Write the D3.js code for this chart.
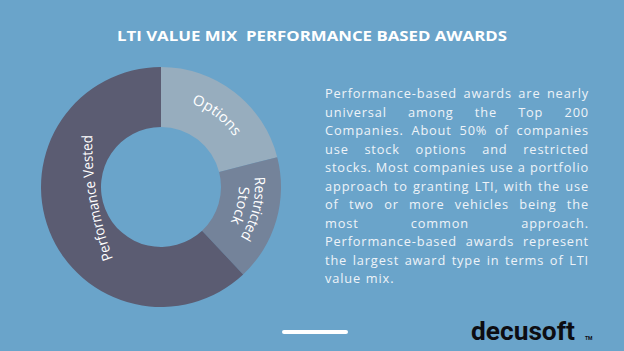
<!DOCTYPE html>
<html>
<head>
<meta charset="utf-8">
<script src="https://cdn.jsdelivr.net/npm/d3@7"></script>
<style>
  html, body { margin: 0; padding: 0; background: #6aa4ca; }
  svg { display: block; }
</style>
</head>
<body>
<svg id="chart1" width="624" height="351"></svg>
<script>
// slices, clockwise from 12 o'clock
const CATEGORIES = ['Options', 'Restricted Stock', 'Performance Vested'];
const SHARES = [21, 17, 62];
const LABEL_LINES = [['Options'], ['Restricted', 'Stock'], ['Performance Vested']];

const TITLE = 'LTI VALUE MIX\u00a0\u00a0PERFORMANCE BASED AWARDS';
const BODY_LINES = [
    'Performance-based awards are nearly',
    'universal among the Top 200',
    'Companies. About 50% of companies',
    'use stock options and restricted',
    'stocks. Most companies use a portfolio',
    'approach to granting LTI, with the use',
    'of two or more vehicles being the',
    'most common approach.',
    'Performance-based awards represent',
    'the largest award type in terms of LTI',
    'value mix.'
];

const COLORS = ['#97adbe', '#74839a', '#5b5c72'];
const FONT = '"Open Sans", "Noto Sans", sans-serif';

const SVG1 = d3.select('#chart1');
const CX = 161, CY = 187;
const R_OUT = 120, R_IN = 60;

// title
SVG1.append('text')
    .attr('x', 312)
    .attr('y', 41)
    .attr('text-anchor', 'middle')
    .style('font-family', FONT)
    .style('font-weight', 700)
    .style('font-size', '15px')
    .style('fill', '#ffffff')
    .attr('textLength', 390)
    .attr('lengthAdjust', 'spacingAndGlyphs')
    .text(TITLE);

// donut
const data = CATEGORIES.map((c, i) => ({ name: c, value: SHARES[i], lines: LABEL_LINES[i], color: COLORS[i] }));
const pie = d3.pie().value(d => d.value).sort(null);
const arc = d3.arc().innerRadius(R_IN).outerRadius(R_OUT);
const arcs = pie(data);

const donut = SVG1.append('g')
    .attr('id', 'donut')
    .attr('transform', `translate(${CX},${CY})`);

donut.selectAll('path.slice')
    .data(arcs)
    .join('path')
    .attr('class', 'slice')
    .attr('d', arc)
    .style('fill', d => d.data.color);

// labels follow a gentle arch (the original used a warp effect, not a concentric path)
// dAngle: shift from slice middle, r: radius of first line centre, rc: curvature radius,
// len: target length of each line
const LABEL_FS = 14.5;
const labelStyle = [
    { dAngle: 0, r: 94, rc: null, gap: 16, len: [55] },
    { dAngle: -3, r: 99, rc: null, gap: 16, len: [63, 37] },
    { dAngle: 12, r: 70, rc: 350, gap: 16, len: [126] }
];

const arcPath = (aDeg, r, rc, halfLen) => {
    const a = aDeg * Math.PI / 180;
    const R = rc || r;
    const px = r * Math.sin(a), py = -r * Math.cos(a);
    const cx = px - R * Math.sin(a), cy = py + R * Math.cos(a);
    const s = halfLen / R;
    const x0 = cx + R * Math.sin(a - s), y0 = cy - R * Math.cos(a - s);
    const x1 = cx + R * Math.sin(a + s), y1 = cy - R * Math.cos(a + s);
    return `M${x0},${y0}A${R},${R} 0 0 1 ${x1},${y1}`;
};

const defs = SVG1.append('defs');
arcs.forEach((d, i) => {
    const st = labelStyle[i];
    const mid = (d.startAngle + d.endAngle) / 2 * 180 / Math.PI + st.dAngle;
    d.data.lines.forEach((line, j) => {
        const rCentre = st.r - j * st.gap;
        // path sits on the baseline, glyphs grow outward
        const rBase = rCentre - 0.35 * LABEL_FS;
        const rc = st.rc ? st.rc - (st.r - rBase) : null;
        const id = `lbl${i}_${j}`;
        defs.append('path')
            .attr('id', id)
            .attr('transform', `translate(${CX},${CY})`)
            .attr('d', arcPath(mid, rBase, rc, 110));
        SVG1.append('text')
            .style('font-family', FONT)
            .style('font-size', LABEL_FS + 'px')
            .style('fill', '#ffffff')
            .append('textPath')
            .attr('href', '#' + id)
            .attr('startOffset', '50%')
            .attr('text-anchor', 'middle')
            .attr('textLength', st.len[j])
            .attr('lengthAdjust', 'spacingAndGlyphs')
            .text(line);
    });
});

// justified paragraph
const TX0 = 325, TX1 = 589, TY0 = 98, LINE_H = 18.5, BODY_FS = 12.8;
const para = SVG1.append('g').attr('id', 'para');

// widen the letters a bit so the tightest line fills the column like the original
const probe = para.append('text').style('font-family', FONT).style('font-size', BODY_FS + 'px');
let spacing = Infinity;
BODY_LINES.slice(0, -1).forEach(line => {
    const w = probe.text(line).node().getComputedTextLength();
    spacing = Math.min(spacing, (TX1 - TX0 - w) / line.length);
});
probe.remove();
spacing = Math.max(0, spacing);

BODY_LINES.forEach((line, i) => {
    const words = line.split(' ');
    const y = TY0 + i * LINE_H;
    const last = i === BODY_LINES.length - 1;
    const ws = words.map(w => para.append('text')
        .attr('y', y)
        .style('font-family', FONT)
        .style('font-size', BODY_FS + 'px')
        .style('letter-spacing', spacing + 'px')
        .style('fill', '#eef3f8')
        .text(w));
    const widths = ws.map(t => t.node().getComputedTextLength());
    const total = d3.sum(widths);
    const gap = (last || words.length < 2) ? 4 + spacing : (TX1 - TX0 - total) / (words.length - 1);
    let x = TX0;
    ws.forEach((t, j) => {
        t.attr('x', x);
        x += widths[j] + gap;
    });
});

// footer bar
SVG1.append('line')
    .attr('x1', 284).attr('x2', 346)
    .attr('y1', 332).attr('y2', 332)
    .style('stroke', '#ffffff')
    .style('stroke-width', 4)
    .style('stroke-linecap', 'round');

// logo
SVG1.append('text')
    .attr('x', 471)
    .attr('y', 340)
    .style('font-family', 'Roboto, sans-serif')
    .style('font-weight', 700)
    .style('font-size', '25px')
    .style('fill', '#0d0d12')
    .attr('textLength', 104)
    .attr('lengthAdjust', 'spacingAndGlyphs')
    .text('decusoft');
SVG1.append('text')
    .attr('x', 585)
    .attr('y', 340)
    .style('font-family', 'Roboto, sans-serif')
    .style('font-weight', 700)
    .style('font-size', '5px')
    .style('fill', '#0d0d12')
    .text('TM');
</script>
</body>
</html>
